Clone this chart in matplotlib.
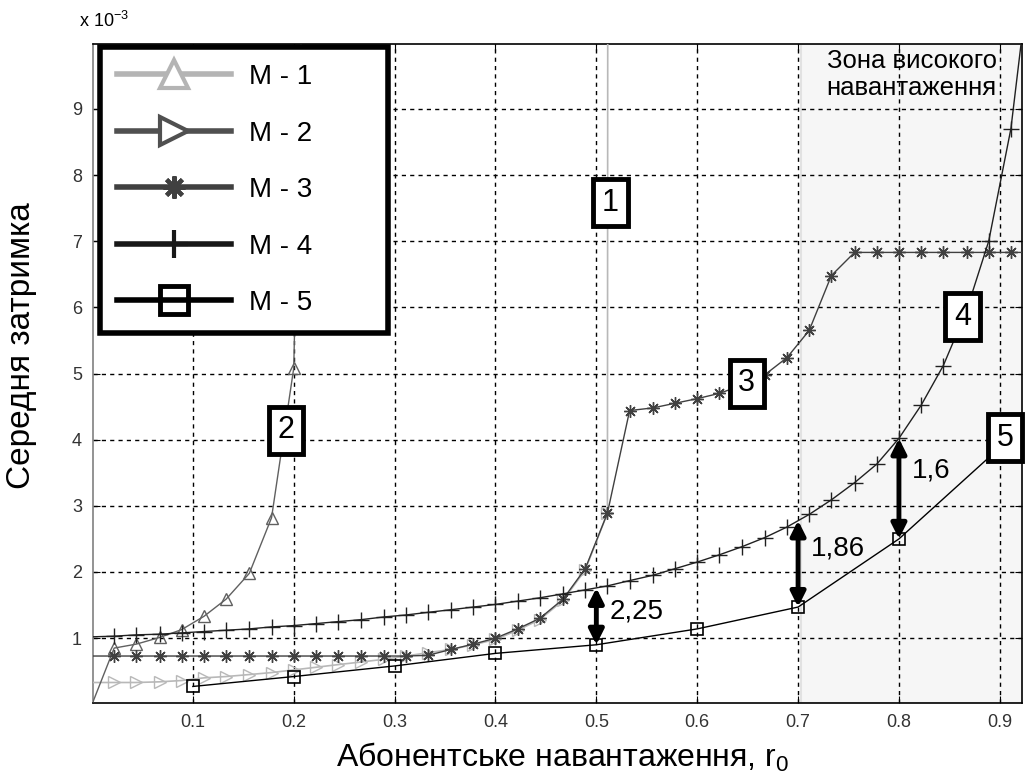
import matplotlib
matplotlib.use("Agg")
import matplotlib.pyplot as plt
from matplotlib.lines import Line2D

plt.rcParams['font.family'] = ['Liberation Sans', 'DejaVu Sans']
plt.rcParams['mathtext.default'] = 'regular'

# load values, x 10^-3 delay
x_all = [0, 0.022, 0.044, 0.067, 0.089, 0.111, 0.133, 0.156, 0.178, 0.2,
         0.222, 0.244, 0.267, 0.289, 0.311, 0.333, 0.356, 0.378, 0.4, 0.422,
         0.444, 0.467, 0.489, 0.511, 0.533, 0.556, 0.578, 0.6, 0.622, 0.644,
         0.667, 0.689, 0.711, 0.733, 0.756, 0.778, 0.8, 0.822, 0.844, 0.867,
         0.889, 0.911, 0.933]

# curve 1 (light gray, right triangles) - blows up at r0 ~ 0.51
m1_x = x_all[:24] + [0.5115]
m1_y = [0.33, 0.33, 0.33, 0.34, 0.36, 0.40, 0.42, 0.45, 0.48, 0.52,
        0.56, 0.60, 0.64, 0.68, 0.73, 0.78, 0.83, 0.90, 0.98, 1.12,
        1.28, 1.57, 2.03, 2.89, 15.0]

# curve 2 (gray, up triangles)
m2_x = x_all[:11]
m2_y = [0.0, 0.85, 0.91, 1.01, 1.13, 1.33, 1.59, 1.98, 2.82, 5.08, 20.0]

# curve 3 (asterisks)
m3_x = x_all
m3_y = [0.73, 0.73, 0.73, 0.73, 0.73, 0.73, 0.73, 0.73, 0.73, 0.73,
        0.73, 0.73, 0.73, 0.73, 0.73, 0.74, 0.83, 0.91, 1.00, 1.14,
        1.30, 1.59, 2.05, 2.89, 4.44, 4.48, 4.55, 4.62, 4.70, 4.82,
        4.98, 5.24, 5.65, 6.48, 6.83, 6.83, 6.83, 6.83, 6.83, 6.83,
        6.83, 6.83, 6.83]

# curve 4 (plus)
m4_x = x_all
m4_y = [1.02, 1.03, 1.05, 1.06, 1.08, 1.10, 1.12, 1.14, 1.17, 1.19,
        1.22, 1.25, 1.28, 1.32, 1.35, 1.39, 1.43, 1.47, 1.51, 1.56,
        1.61, 1.67, 1.73, 1.79, 1.87, 1.95, 2.05, 2.15, 2.26, 2.38,
        2.52, 2.68, 2.87, 3.09, 3.35, 3.63, 4.02, 4.52, 5.12, 5.95,
        7.00, 8.70, 11.5]

# curve 5 (squares)
m5_x = [0.1, 0.2, 0.3, 0.4, 0.5, 0.6, 0.7, 0.8, 0.9]
m5_y = [0.27, 0.42, 0.58, 0.77, 0.90, 1.14, 1.47, 2.50, 3.88]

# gaps between curve 4 and curve 5
gap_x = [0.5, 0.7, 0.8]
gap_top = [1.76, 2.78, 4.02]
gap_bot = [0.90, 1.47, 2.50]
gap_lbl = ['2,25', '1,86', '1,6']
gap_lbl_y = [1.41, 2.36, 3.53]

fig = plt.figure(figsize=(10.25, 7.78), dpi=100)
ax = fig.add_axes([93 / 1025, 1 - 703 / 778, 929 / 1025, 659 / 778])

ax.axvspan(0.703, 0.95, facecolor='#f6f6f6', edgecolor='#e2e2e2', lw=1.5, zorder=0)

ax.plot(m1_x, m1_y, color='#b8b8b8', lw=1.2, marker='>', ms=9, mfc='none',
        mec='#b8b8b8', markevery=list(range(1, 24)), zorder=3)
ax.plot(m2_x, m2_y, color='#606060', lw=1.0, marker='^', ms=9, mfc='none',
        mec='#606060', markevery=list(range(1, 10)), zorder=3)
ax.plot(m3_x, m3_y, color='#404040', lw=1.0, marker=(8, 2, 0), ms=9,
        mec='#404040', mew=1.0, markevery=list(range(1, 43)), zorder=3)
ax.plot(m4_x, m4_y, color='#202020', lw=1.0, marker='+', ms=12, mew=1.0,
        markevery=list(range(1, 43)), zorder=3)
ax.plot(m5_x, m5_y, color='black', lw=1.0, marker='s', ms=9, mfc='none',
        mec='black', mew=1.2, zorder=3)

for gx, gt, gb, gl, gy in zip(gap_x, gap_top, gap_bot, gap_lbl, gap_lbl_y):
    ax.annotate('', xy=(gx, gb), xytext=(gx, gt),
                arrowprops=dict(arrowstyle='<|-|>', lw=3.5, color='black',
                                mutation_scale=22, shrinkA=0, shrinkB=0), zorder=5)
    ax.text(gx + 0.013, gy, gl, fontsize=20, ha='left', va='center', zorder=5)

box = dict(boxstyle='square,pad=0.28', fc='white', ec='black', lw=3.5)
for lbl, lx, ly in [('1', 0.514, 7.58), ('2', 0.192, 4.14), ('3', 0.649, 4.85),
                    ('4', 0.863, 5.86), ('5', 0.905, 4.03)]:
    ax.text(lx, ly, lbl, fontsize=22, ha='center', va='center', bbox=box, zorder=6,
            clip_on=False)

ax.text(0.897, 9.9, 'Зона високого\nнавантаження', fontsize=18.5, ha='right', va='top',
        linespacing=1.15, zorder=4)

ax.set_xlim(0.001, 0.922)
ax.set_ylim(0.02, 9.98)
ax.set_xticks([0.1, 0.2, 0.3, 0.4, 0.5, 0.6, 0.7, 0.8, 0.9])
ax.set_xticklabels(['0.1', '0.2', '0.3', '0.4', '0.5', '0.6', '0.7', '0.8', '0.9'])
ax.set_yticks([1, 2, 3, 4, 5, 6, 7, 8, 9])
ax.tick_params(direction='in', top=True, right=True, length=5, labelsize=13,
               labelcolor='#333333', pad=8)
ax.grid(True, color='black', linestyle=(0, (3, 3)), lw=1.0)
ax.set_axisbelow(True)
for s in ax.spines.values():
    s.set_linewidth(1.2)
ax.spines['left'].set_color('#808080')

ax.set_xlabel('Абонентське навантаження, r$_0$', fontsize=23)
ax.xaxis.set_label_coords(0.506, -0.057)
ax.set_ylabel('Середня затримка', fontsize=24)
ax.yaxis.set_label_coords(-0.06, 0.542)
ax.text(-0.015, 1.02, 'x 10$^{-3}$', transform=ax.transAxes, fontsize=13, ha='left',
        va='bottom')

handles = [
    Line2D([], [], color='#b4b4b4', lw=4, marker='^', ms=20, mfc='white', mew=3),
    Line2D([], [], color='#505050', lw=4, marker='>', ms=20, mfc='white', mew=3),
    Line2D([], [], color='#404040', lw=4, marker=(8, 2, 0), ms=16, mew=3),
    Line2D([], [], color='#181818', lw=4, marker='+', ms=20, mew=3),
    Line2D([], [], color='black', lw=4, marker='s', ms=20, mfc='none', mew=3.5),
]
leg = ax.legend(handles, ['M - 1', 'M - 2', 'M - 3', 'M - 4', 'M - 5'],
                loc='upper left', bbox_to_anchor=(0.0075, 0.995, 0.31, 0.0),
                mode='expand', borderaxespad=0,
                fontsize=20, handlelength=4.1, handletextpad=0.65, labelspacing=1.1,
                borderpad=0.6, fancybox=False, framealpha=1, edgecolor='black')
leg.get_frame().set_linewidth(4)
leg.set_zorder(10)

fig.savefig('out.png', dpi=100)
